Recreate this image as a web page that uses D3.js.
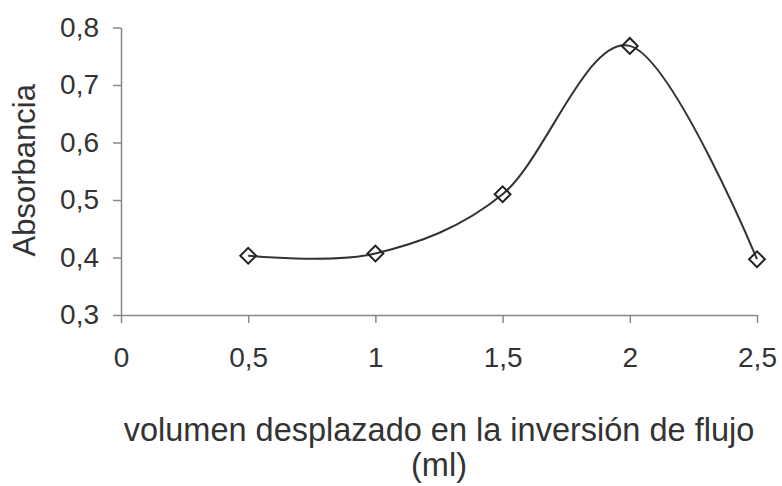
<!DOCTYPE html>
<html>
<head>
<meta charset="utf-8">
<script src="https://cdn.jsdelivr.net/npm/d3@7"></script>
<style>
  html, body { margin: 0; padding: 0; background: #fff; }
  svg { display: block; font-family: "Liberation Sans", Arial, sans-serif; }
</style>
</head>
<body>
<svg id="chart" width="782" height="486"></svg>
<script>
const volumes = [0.5, 1, 1.5, 2, 2.5];
const absorbance = [0.403, 0.407, 0.510, 0.768, 0.397];
const xTicks = [0, 0.5, 1, 1.5, 2, 2.5];
const yTicks = [0.3, 0.4, 0.5, 0.6, 0.7, 0.8];
const xTitleLines = ["volumen desplazado en la inversión de flujo", "(ml)"];
const yTitle = "Absorbancia";

(function () {
const svg = d3.select("#chart");
const pLeft = 121, pRight = 757, pTop = 27.5, pBottom = 315;
const x = d3.scaleLinear().domain([0, 2.5]).range([pLeft, pRight]);
const y = d3.scaleLinear().domain([0.3, 0.8]).range([pBottom, pTop]);
const fmt = d => d3.format("")(d).replace(".", ",");

const axisColor = "#888";
const textColor = "#333";
const fs = 28;

const xAxis = svg.append("g").attr("transform", `translate(0,${pBottom})`)
  .call(d3.axisBottom(x).tickValues(xTicks).tickFormat(fmt).tickSize(8).tickSizeOuter(0).tickPadding(24));
const yAxis = svg.append("g").attr("transform", `translate(${pLeft},0)`)
  .call(d3.axisLeft(y).tickValues(yTicks).tickFormat(fmt).tickSize(8).tickSizeOuter(0).tickPadding(14));

[xAxis, yAxis].forEach(g => {
  g.select(".domain").attr("stroke", axisColor).attr("stroke-width", 1.5);
  g.selectAll(".tick line").attr("stroke", axisColor).attr("stroke-width", 1.5);
  g.selectAll(".tick text").attr("fill", textColor).style("font-size", fs + "px")
    .style("font-family", '"Liberation Sans", Arial, sans-serif');
});
xAxis.selectAll(".tick text").attr("dy", "0.71em");

const data = volumes.map((v, i) => ({ v, a: absorbance[i] }));
const line = d3.line().x(d => x(d.v)).y(d => y(d.a)).curve(d3.curveCardinal.tension(0));
svg.append("path").datum(data).attr("d", line)
  .attr("fill", "none").attr("stroke", "#333").attr("stroke-width", 2);

const sym = d3.symbol().type(d3.symbolSquare).size(125);
svg.selectAll(".mk").data(data).enter().append("path")
  .attr("class", "mk")
  .attr("d", sym)
  .attr("transform", d => `translate(${x(d.v)},${y(d.a)}) rotate(45)`)
  .attr("fill", "none").attr("stroke", "#222").attr("stroke-width", 2);

svg.append("text")
  .attr("transform", `translate(35,${(pTop + pBottom) / 2 - 1}) rotate(-90)`)
  .attr("text-anchor", "middle").attr("fill", textColor)
  .style("font-size", "31px").text(yTitle);

svg.append("text").attr("text-anchor", "middle").attr("fill", textColor)
  .style("font-size", "32.5px")
  .selectAll("tspan").data(xTitleLines).enter().append("tspan")
  .attr("x", (pLeft + pRight) / 2).attr("y", (d, i) => 441 + i * 35).text(d => d);
})();
</script>
</body>
</html>
